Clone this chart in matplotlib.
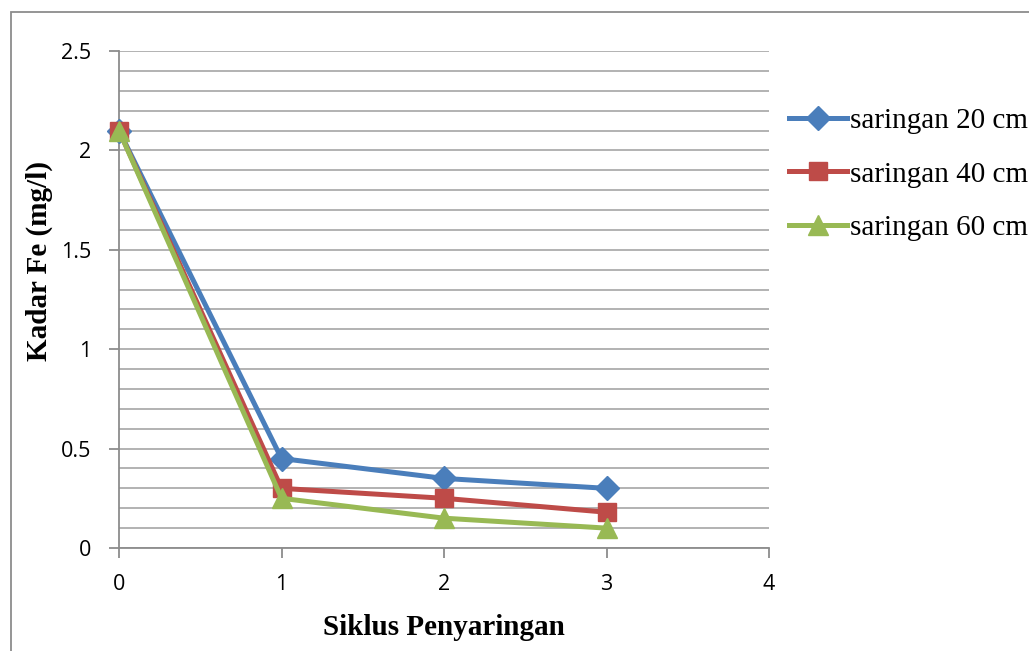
import numpy as np
import matplotlib.pyplot as plt
from matplotlib.patches import Rectangle
from matplotlib.ticker import MultipleLocator

siklus = [0, 1, 2, 3]
fe_20 = [2.1, 0.45, 0.35, 0.30]
fe_40 = [2.1, 0.30, 0.25, 0.18]
fe_60 = [2.1, 0.25, 0.15, 0.10]
labels = ["saringan 20 cm", "saringan 40 cm", "saringan 60 cm"]

fig = plt.figure(figsize=(10.29, 6.51), dpi=100)
ax = fig.add_axes([119/1029, 1-548/651, 650/1029, 497/651])

# outer chart frame (cut off at right and bottom)
fig.patches.append(Rectangle((11/1029, -0.1), 1.2, 1-12/651+0.1, transform=fig.transFigure,
                             fill=False, edgecolor="#8c8c8c", linewidth=1.3))

ax.plot(siklus, fe_20, color="#4A7EBB", lw=3.6, marker="D", ms=12, label=labels[0],
        zorder=3, clip_on=False)
ax.plot(siklus, fe_40, color="#BE4B48", lw=3.6, marker="s", ms=12.5, label=labels[1],
        zorder=4, clip_on=False)
ax.plot(siklus, fe_60, color="#98B954", lw=3.6, marker="^", ms=14, label=labels[2],
        zorder=5, clip_on=False)

ax.set_xlim(0, 4)
ax.set_ylim(0, 2.5)
ax.xaxis.set_major_locator(MultipleLocator(1))
ax.yaxis.set_major_locator(MultipleLocator(0.5))
ax.yaxis.set_minor_locator(MultipleLocator(0.1))
ax.yaxis.set_major_formatter(plt.FuncFormatter(lambda v, p: f"{v:g}"))
ax.grid(True, which="both", axis="y", color="#a6a6a6", lw=1.2)
ax.set_axisbelow(True)

for s in ["top", "right"]:
    ax.spines[s].set_visible(False)
for s in ["left", "bottom"]:
    ax.spines[s].set_color("#8c8c8c")
    ax.spines[s].set_linewidth(1.3)
ax.tick_params(axis="x", direction="out", length=7, color="#8c8c8c", width=1.3,
               labelsize=15.5, pad=12)
ax.tick_params(axis="y", which="major", direction="out", length=7, color="#8c8c8c",
               width=1.3, labelsize=15.5, pad=13)
ax.tick_params(axis="y", which="minor", length=0)
for t in ax.get_xticklabels() + ax.get_yticklabels():
    t.set_fontfamily("Open Sans")

ax.set_xlabel("Siklus Penyaringan", fontfamily="Liberation Serif", fontweight="bold",
              fontsize=21, labelpad=13.5)
ax.set_ylabel("Kadar Fe (mg/l)", fontfamily="Liberation Serif", fontweight="bold",
              fontsize=21, va="center")
ax.yaxis.set_label_coords((39-119)/650, (548-261)/497)

leg = ax.legend(loc="upper left", bbox_to_anchor=(1.013, 0.91), frameon=False,
                prop={"family": "Liberation Serif", "size": 21},
                handlelength=2.0, handletextpad=0.1, labelspacing=0.94, borderaxespad=0)

fig.savefig("out.png", dpi=100)
